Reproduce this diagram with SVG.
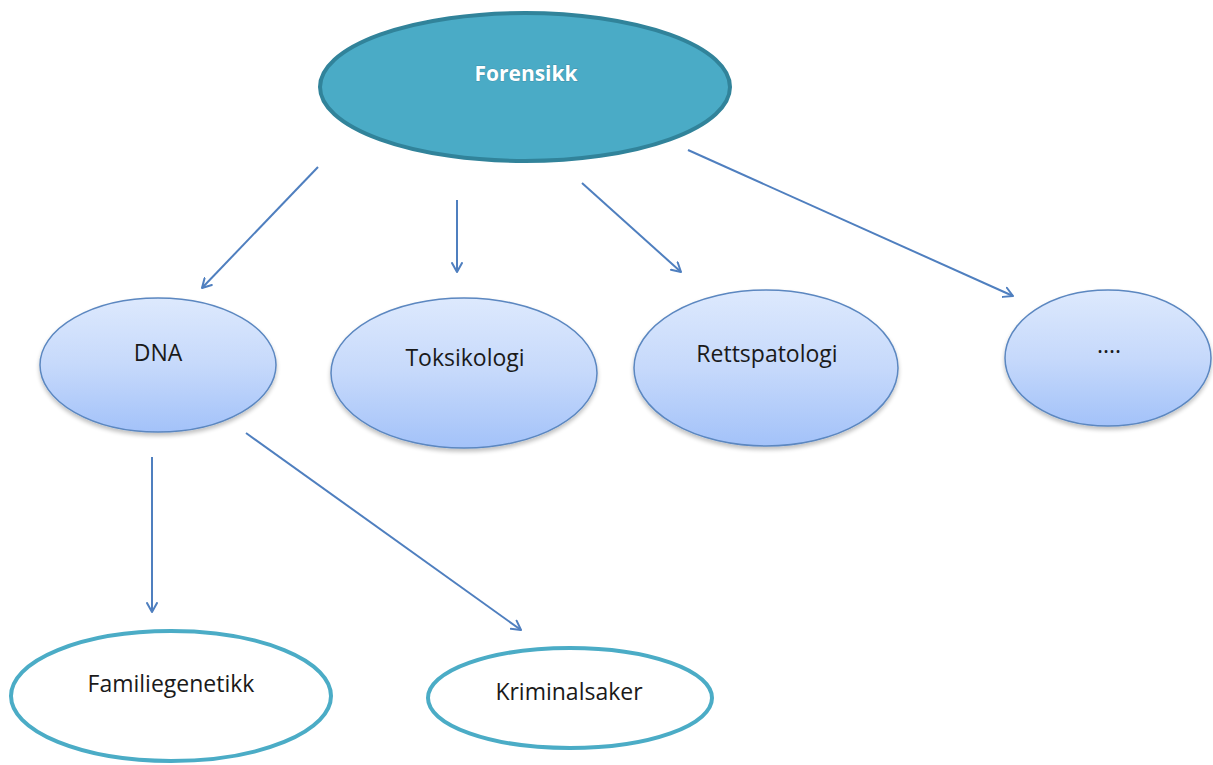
<svg xmlns="http://www.w3.org/2000/svg" width="1213" height="765" viewBox="0 0 1213 765">
<defs>
<linearGradient id="blueFill" x1="0" y1="0" x2="0" y2="1">
<stop offset="0" stop-color="#dde9fd"/>
<stop offset="0.5" stop-color="#c6d9fb"/>
<stop offset="1" stop-color="#a3c2f9"/>
</linearGradient>
<filter id="shadow" x="-10%" y="-10%" width="120%" height="130%">
<feGaussianBlur in="SourceAlpha" stdDeviation="2"/>
<feOffset dx="0" dy="3" result="b"/>
<feComponentTransfer><feFuncA type="linear" slope="0.25"/></feComponentTransfer>
<feMerge><feMergeNode/><feMergeNode in="SourceGraphic"/></feMerge>
</filter>
<marker id="arrow" viewBox="0 0 12 12" refX="10" refY="6" markerWidth="12" markerHeight="12" markerUnits="userSpaceOnUse" orient="auto">
<path d="M1,1 L10,6 L1,11" fill="none" stroke="#4f7fbf" stroke-width="2" stroke-linecap="round" stroke-linejoin="round"/>
</marker>
</defs>
<style>
.sub ellipse{fill:url(#blueFill);stroke:#5b87c0;stroke-width:1.5;filter:url(#shadow)}
.leaf ellipse{fill:#ffffff;stroke:#4bacc6;stroke-width:4}
.lbl{font-family:"Open Sans","Liberation Sans",sans-serif;font-size:23px;fill:#1a1a1a;text-anchor:middle}
.conn line{stroke:#4f7fbf;stroke-width:2;marker-end:url(#arrow)}
</style>
<rect width="1213" height="765" fill="#ffffff"/>
<g id="forensikk">
<ellipse cx="525" cy="87" rx="205" ry="74" fill="#4aabc6" stroke="#31839a" stroke-width="4"/>
<text x="526" y="81" font-family="'Open Sans','Liberation Sans',sans-serif" font-size="21" font-weight="bold" fill="#ffffff" text-anchor="middle" style="paint-order:stroke" stroke="#2d6f82" stroke-width="1" stroke-opacity="0.4">Forensikk</text>
</g>
<g id="dna" class="sub">
<ellipse cx="158" cy="365" rx="118" ry="67"/>
<text class="lbl" x="158" y="361">DNA</text>
</g>
<g id="toksikologi" class="sub">
<ellipse cx="464" cy="373" rx="133" ry="75"/>
<text class="lbl" x="465" y="366">Toksikologi</text>
</g>
<g id="rettspatologi" class="sub">
<ellipse cx="766" cy="368" rx="132" ry="78"/>
<text class="lbl" x="767" y="362">Rettspatologi</text>
</g>
<g id="more" class="sub">
<ellipse cx="1108" cy="358" rx="103" ry="68"/>
<text class="lbl" x="1109" y="353">....</text>
</g>
<g id="familiegenetikk" class="leaf">
<ellipse cx="171" cy="696" rx="160" ry="65"/>
<text class="lbl" x="171" y="692">Familiegenetikk</text>
</g>
<g id="kriminalsaker" class="leaf">
<ellipse cx="570" cy="698" rx="142" ry="50"/>
<text class="lbl" x="569" y="700">Kriminalsaker</text>
</g>
<g id="connectors" class="conn">
<line x1="318" y1="167" x2="202" y2="288"/>
<line x1="457" y1="200" x2="457" y2="272"/>
<line x1="582" y1="183" x2="681" y2="272"/>
<line x1="688" y1="150" x2="1013" y2="296"/>
<line x1="152" y1="457" x2="152" y2="612"/>
<line x1="246" y1="433" x2="521" y2="630"/>
</g>
</svg>
